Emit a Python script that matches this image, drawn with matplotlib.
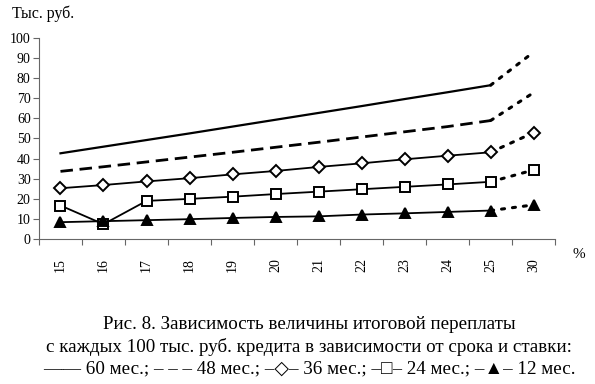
import matplotlib.pyplot as plt
import matplotlib

matplotlib.rcParams['font.family'] = ['Liberation Serif', 'DejaVu Serif']

# ставка, %
rates = ['15', '16', '17', '18', '19', '20', '21', '22', '23', '24', '25', '30']

# переплата, тыс. руб.
m60 = [42.6, 45.9, 49.2, 52.5, 55.9, 59.3, 62.7, 66.1, 69.6, 73.0, 76.5, 93.0]
m48 = [33.6, 35.9, 38.3, 40.7, 43.1, 45.6, 48.1, 50.7, 53.3, 55.9, 58.9, 72.8]
m36 = [25.2, 26.8, 28.6, 30.2, 32.1, 33.8, 35.8, 37.6, 39.6, 41.4, 43.1, 52.9]
m24 = [16.6, 7.3, 18.9, 19.9, 21.0, 22.3, 23.5, 24.7, 25.9, 27.1, 28.4, 34.3]
m12 = [8.3, 8.8, 9.3, 9.8, 10.4, 10.9, 11.2, 12.1, 12.7, 13.4, 14.1, 16.9]

x = list(range(len(rates)))

fig = plt.figure(figsize=(5.95, 3.84), dpi=100)
ax = fig.add_axes([0.0655, 0.378, 0.8675, 0.523])

series = [
    (m60, '-', 1.6, None, 6, 'black'),
    (m48, (0, (4.5, 2.4)), 2.0, None, 6, 'black'),
    (m36, '-', 1.3, 'D', 6, 'white'),
    (m24, '-', 1.3, 's', 7.5, 'white'),
    (m12, '-', 1.3, '^', 7.5, 'black'),
]
for vals, ls, lw, mk, ms, fc in series:
    ax.plot(x[:11], vals[:11], color='black', linestyle=ls, linewidth=lw)
    ax.plot(x[10:], vals[10:], color='black', linestyle=(0, (1, 2.6)),
            linewidth=2.2, dash_capstyle='round')
    if mk:
        ax.plot(x, vals, linestyle='none', marker=mk, markersize=ms,
                markerfacecolor=fc, markeredgecolor='black', markeredgewidth=1.4)

ax.set_xlim(-0.5, len(rates) - 0.5)
ax.set_ylim(0, 100)
ax.set_yticks(range(0, 101, 10))
ax.set_xticks(x)
ax.set_xticklabels(rates, rotation=90)
ax.set_xticks([i - 0.5 for i in range(len(rates) + 1)], minor=True)
ax.tick_params(axis='x', which='major', length=0, pad=14, labelsize=10)
ax.tick_params(axis='x', which='minor', length=4, width=0.8, color='0.4')
ax.tick_params(axis='y', length=4, width=0.8, color='0.4', labelsize=10, pad=2)
for s in ['top', 'right']:
    ax.spines[s].set_visible(False)
for s in ['left', 'bottom']:
    ax.spines[s].set_color('0.4')
    ax.spines[s].set_linewidth(0.8)

fig.text(0.02, 0.964, 'Тыс. руб.', fontsize=11.5, va='center')
fig.text(0.972, 0.338, '%', fontsize=11, ha='center', va='center')

fig.text(0.52, 0.154, 'Рис. 8. Зависимость величины итоговой переплаты',
         fontsize=13.7, ha='center', va='center')
fig.text(0.52, 0.096, 'с каждых 100 тыс. руб. кредита в зависимости от срока и ставки:',
         fontsize=13.7, ha='center', va='center')
fig.text(0.52, 0.039, '—— 60 мес.; – – – 48 мес.; –◇– 36 мес.; –□– 24 мес.; –▲– 12 мес.',
         fontsize=13.7, ha='center', va='center')

fig.savefig('out.png', dpi=100)
